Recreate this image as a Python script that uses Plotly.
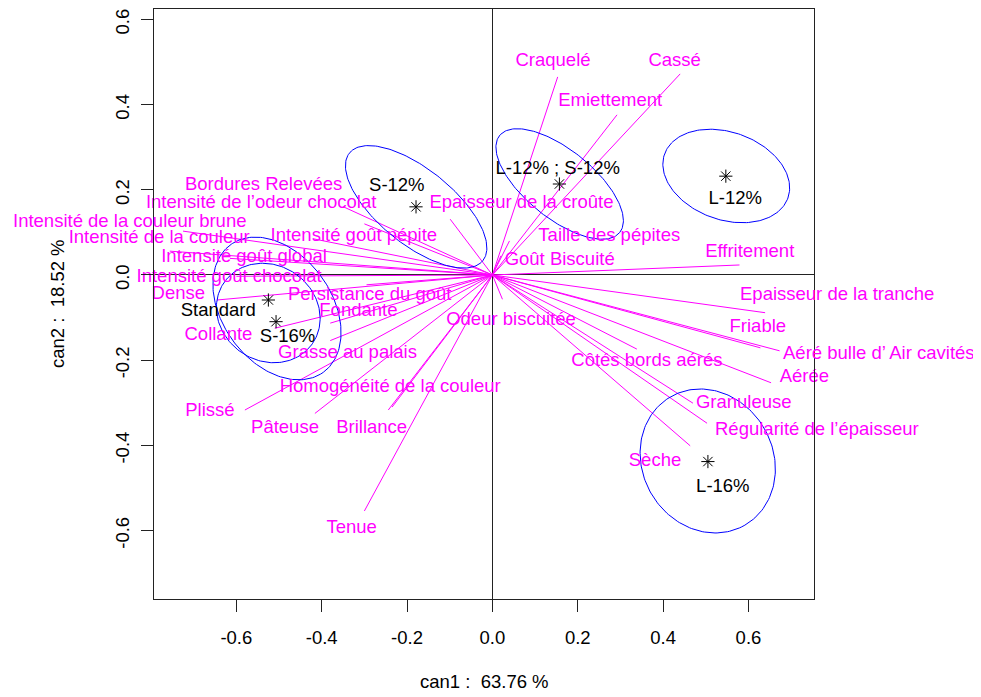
import numpy as np
import plotly.graph_objects as go

# ---- variables (loadings) ----
var_labels = ["Craquelé", "Cassé", "Emiettement", "Epaisseur de la croûte", "Taille des pépites",
              "Goût Biscuité", "Effritement", "Epaisseur de la tranche", "Friable",
              "Aéré bulle d’ Air cavités", "Aérée", "Granuleuse", "Régularité de l’épaisseur",
              "Sèche", "Côtés bords aérés", "Odeur biscuitée", "Tenue", "Brillance",
              "Homogénéité de la couleur", "Pâteuse", "Plissé", "Grasse au palais", "Collante",
              "Fondante", "Persistance du goût", "Dense", "Intensité goût chocolat",
              "Intensité goût global", "Intensité goût pépite", "Intensité de la couleur",
              "Intensité de la couleur brune", "Intensité de l’odeur chocolat", "Bordures Relevées"]
var_x = [0.153, 0.440, 0.292, -0.099, 0.040, 0.020, 0.579, 0.639, 0.628, 0.673, 0.653, 0.470, 0.503,
         0.4635, 0.3385, 0.0235, -0.300, -0.235, -0.244, -0.416, -0.580, -0.380, -0.510, -0.380,
         -0.295, -0.6455, -0.600, -0.615, -0.420, -0.756, -0.725, -0.349, -0.300]
var_y = [0.465, 0.472, 0.376, 0.131, 0.080, 0.045, 0.0235, -0.0885, -0.171, -0.178, -0.253, -0.301,
         -0.348, -0.401, -0.174, -0.057, -0.554, -0.310, -0.317, -0.325, -0.317, -0.154, -0.125,
         -0.113, -0.023, -0.0587, -0.003, 0.039, 0.085, 0.056, 0.103, 0.160, 0.120]
lab_x = [0.142, 0.427, 0.276, 0.068, 0.274, 0.1576, 0.603, 0.808, 0.622, 0.905, 0.731, 0.589, 0.761,
         0.381, 0.362, 0.0435, -0.3297, -0.283, -0.2395, -0.486, -0.662, -0.3395, -0.642, -0.314,
         -0.2875, -0.736, -0.617, -0.582, -0.3247, -0.781, -0.851, -0.542, -0.536]
lab_y = [0.501, 0.502, 0.408, 0.168, 0.0915, 0.0336, 0.052, -0.0446, -0.124, -0.181, -0.240, -0.301,
         -0.3615, -0.438, -0.2035, -0.1056, -0.5946, -0.360, -0.2636, -0.360, -0.321, -0.184, -0.141,
         -0.0845, -0.047, -0.045, -0.005, 0.0415, 0.090, 0.086, 0.127, 0.168, 0.2097]

# ---- products ----
prod_labels = ["Standard", "S-16%", "S-12%", "L-12% ; S-12%", "L-12%", "L-16%"]
prod_x = [-0.525, -0.507, -0.179, 0.157, 0.547, 0.505]
prod_y = [-0.0587, -0.1096, 0.160, 0.2136, 0.232, -0.438]
prod_lab_x = [-0.6425, -0.480, -0.224, 0.153, 0.569, 0.540]
prod_lab_y = [-0.0845, -0.146, 0.209, 0.249, 0.178, -0.499]

# ---- confidence ellipses: centre, semi-axes, angle (deg) ----
ell_cx = [-0.1787, 0.1576, 0.548, 0.5046, -0.5048, -0.5252]
ell_cy = [0.160, 0.2136, 0.2324, -0.4366, -0.0786, -0.0892]
ell_a = [0.201, 0.181, 0.1535, 0.174, 0.185, 0.126]
ell_b = [0.088, 0.080, 0.1028, 0.153, 0.128, 0.112]
ell_ang = [-39, -39, -19.7, -60, -54, -35]

X_RANGE = [-0.793, 0.7536]
Y_RANGE = [-0.7606, 0.6244]

FONT = "Liberation Sans, Arial, sans-serif"
FS = 18.5
MAG = "#FF00FF"

fig = go.Figure()

# variable arrows
lx, ly = [], []
for x, y in zip(var_x, var_y):
    lx += [0, x, None]
    ly += [0, y, None]
fig.add_trace(go.Scatter(x=lx, y=ly, mode="lines", line=dict(color=MAG, width=1),
                         hoverinfo="skip", showlegend=False))

# ellipses
t = np.linspace(0, 2 * np.pi, 200)
for cx, cy, a, b, ang in zip(ell_cx, ell_cy, ell_a, ell_b, ell_ang):
    th = np.deg2rad(ang)
    ex = cx + a * np.cos(t) * np.cos(th) - b * np.sin(t) * np.sin(th)
    ey = cy + a * np.cos(t) * np.sin(th) + b * np.sin(t) * np.cos(th)
    fig.add_trace(go.Scatter(x=ex, y=ey, mode="lines", line=dict(color="#0000FF", width=1),
                             hoverinfo="skip", showlegend=False))

# variable labels: inside the axis range -> text trace; outside -> annotations
in_x, in_y, in_t = [], [], []
annotations = []
for lab, x, y in zip(var_labels, lab_x, lab_y):
    if X_RANGE[0] <= x <= X_RANGE[1] and Y_RANGE[0] <= y <= Y_RANGE[1]:
        in_x.append(x); in_y.append(y); in_t.append(lab)
    else:
        annotations.append(dict(
            text=lab, xref="paper", yref="y",
            x=(x - X_RANGE[0]) / (X_RANGE[1] - X_RANGE[0]), y=y,
            xanchor="center", yanchor="middle", showarrow=False,
            font=dict(family=FONT, size=FS, color=MAG)))
fig.add_trace(go.Scatter(x=in_x, y=in_y, mode="text", text=in_t,
                         textposition="middle center", cliponaxis=False,
                         textfont=dict(family=FONT, size=FS, color=MAG),
                         hoverinfo="skip", showlegend=False))

# product points
fig.add_trace(go.Scatter(x=prod_x, y=prod_y, mode="markers",
                         marker=dict(symbol="asterisk-open", size=11,
                                     line=dict(color="black", width=1), color="black"),
                         hoverinfo="skip", showlegend=False))
fig.add_trace(go.Scatter(x=prod_lab_x, y=prod_lab_y, mode="text", text=prod_labels,
                         textposition="middle center", cliponaxis=False,
                         textfont=dict(family=FONT, size=FS, color="black"),
                         hoverinfo="skip", showlegend=False))

ticks = [-0.6, -0.4, -0.2, 0.0, 0.2, 0.4, 0.6]
ticktext = [f"{v:.1f}" for v in ticks]

fig.update_xaxes(range=X_RANGE, tickvals=ticks, ticktext=ticktext,
                 showgrid=False, zeroline=True, zerolinecolor="#222", zerolinewidth=1,
                 showline=True, linecolor="#222", linewidth=1, mirror=True,
                 ticks="outside", ticklen=12, tickcolor="#222", ticklabelstandoff=10,
                 ticklabeloverflow="allow",
                 tickfont=dict(family=FONT, size=FS, color="black"))
fig.update_yaxes(range=Y_RANGE, tickvals=ticks, ticktext=ticktext,
                 showgrid=False, zeroline=True, zerolinecolor="#222", zerolinewidth=1,
                 showline=True, linecolor="#222", linewidth=1, mirror=True,
                 ticks="outside", ticklen=12, tickcolor="#222", tickangle=-90, ticklabelstandoff=5,
                 ticklabelshift=5, ticklabeloverflow="allow",
                 tickfont=dict(family=FONT, size=FS, color="black"))

annotations += [
    dict(text="can1 :\u00a0\u00a063.76 %", xref="paper", yref="paper", x=0.5, y=0,
         xanchor="center", yanchor="middle", yshift=-82, showarrow=False,
         font=dict(family=FONT, size=FS, color="black")),
    dict(text="can2 :\u00a0\u00a018.52 %", xref="paper", yref="paper", x=0, y=0.5,
         xanchor="center", yanchor="middle", xshift=-97, textangle=-90, showarrow=False,
         font=dict(family=FONT, size=FS, color="black")),
]

fig.update_layout(
    width=973, height=681,
    margin=dict(l=146, r=167, t=1, b=90, autoexpand=False),
    plot_bgcolor="white", paper_bgcolor="white",
    annotations=annotations,
)

fig.write_html("out.html")
